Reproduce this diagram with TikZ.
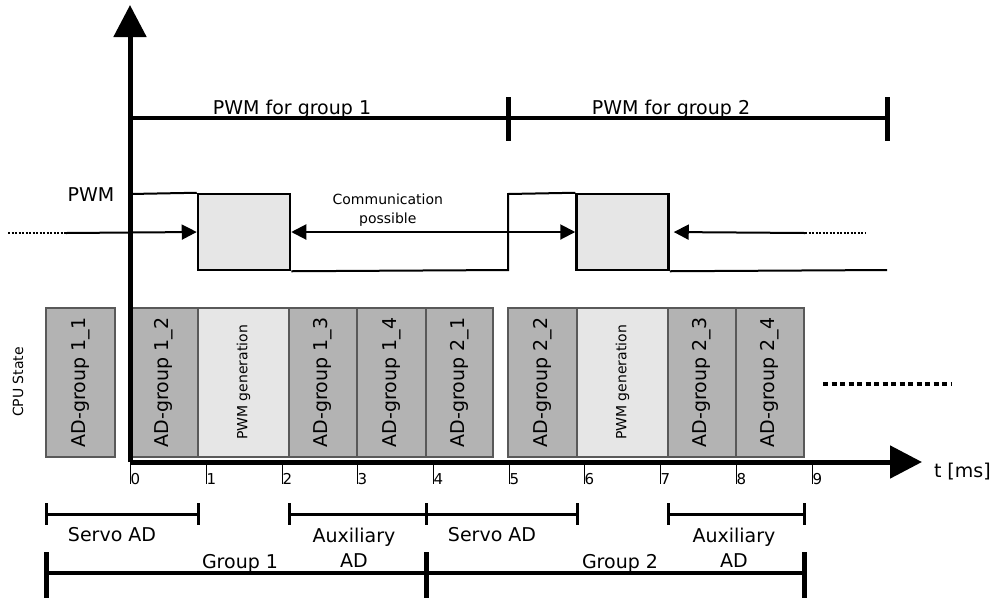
\documentclass[tikz,border=0pt]{standalone}
\usepackage{fontspec}
\setmainfont{DejaVu Sans}
\usetikzlibrary{arrows.meta}
\definecolor{adgray}{HTML}{B3B3B3}
\definecolor{pwmgray}{HTML}{E6E6E6}
\newcommand{\bigfont}{\fontsize{19}{25}\selectfont}
\newcommand{\smallfont}{\fontsize{14}{19}\selectfont}

\begin{document}
\begin{tikzpicture}[x=1pt,y=-1pt,font=\bigfont,line width=2pt,
  axis/.style={-{Triangle[length=32pt,width=32pt]},line width=5pt},
  span/.style={line width=4.5pt},
  bar/.style={line width=5pt},
  bracket/.style={line width=3pt},
  cpubox/.style={draw=black!65,line width=1.3pt,fill=adgray,rotate=90,
    minimum width=149pt,minimum height=68pt,inner sep=0pt},
  pwmbox/.style={cpubox,fill=pwmgray,minimum height=91pt,font=\smallfont},
  pulse/.style={draw,line width=2.5pt,fill=pwmgray,minimum width=92pt,
    minimum height=76pt,inner sep=0pt},
  comm/.style={-{Triangle[length=15pt,width=15pt]}},
  bothcomm/.style={{Triangle[length=15pt,width=15pt]}-{Triangle[length=15pt,width=15pt]}},
  fewdots/.style={line width=2.5pt,dash pattern=on 2pt off 1.5pt}]
\useasboundingbox (0,0) rectangle (992,598);

% CPU state
\node[cpubox,minimum height=69pt] (ag11) at (80.5,382.5) {AD-group 1\_1};
\node[cpubox] (ag12) at (164,382.5) {AD-group 1\_2};
\node[pwmbox] (pwm1) at (243.5,382.5) {PWM generation};
\node[cpubox] (ag13) at (323,382.5) {AD-group 1\_3};
\node[cpubox,minimum height=69pt] (ag14) at (391.5,382.5) {AD-group 1\_4};
\node[cpubox,minimum height=67pt] (ag21) at (459.5,382.5) {AD-group 2\_1};
\node[cpubox,minimum height=69pt] (ag22) at (542.5,382.5) {AD-group 2\_2};
\node[pwmbox] (pwm2) at (622.5,382.5) {PWM generation};
\node[cpubox] (ag23) at (702,382.5) {AD-group 2\_3};
\node[cpubox] (ag24) at (770,382.5) {AD-group 2\_4};
\node[rotate=90,font=\smallfont] (cpu) at (18,382) {CPU State};
\draw[line width=4pt,dash pattern=on 5pt off 3.5pt] (823,384) -- (951,384);

% axes
\coordinate (o) at (130,462);
\draw[axis] (o) -- (130,5);
\draw[axis] (o) -- (922,462);
\node[anchor=base west,inner sep=0pt] (unit) at (933,477) {t [ms]};
\foreach \i/\x in {0/130,1/206,2/282,3/357,4/433,5/509,6/584,7/660,8/736,9/812}
  \draw[line width=1pt] (\x,462) -- (\x,484)
    node[anchor=base west,inner sep=0pt,font=\fontsize{15}{18}\selectfont] (t\i) {\i};

% PWM periods
\draw[span] (130,118) -- (887,118);
\draw[bar] (508,97) -- (508,141);
\draw[bar] (887,97) -- (887,141);
\node[anchor=base] (per1) at (292,114) {PWM for group 1};
\node[anchor=base] (per2) at (671,114) {PWM for group 2};

% PWM signal
\node[anchor=base] (pwm) at (91,201) {PWM};
\node[pulse] (p1) at (244,232) {};
\node[pulse] (p2) at (622.5,232) {};
\draw (130,194) -- (p1.north west);
\draw (p1.south east) -- (508,270) -- (508,194) -- (p2.north west);
\draw (p2.south east) -- (887,270);

\coordinate (inl) at (66,233);
\coordinate (inr) at (805,233);
\draw[fewdots] (8,233) -- (inl);
\draw[comm] (inl) -- (p1.west);
\draw[bothcomm] (p1.east) --
  node[pos=0.34,above=1pt,align=center,font=\smallfont] (commtxt)
  {Communication\\possible} (p2.west);
\draw[comm,shorten >=4pt] (inr) -- (p2.east);
\draw[fewdots] (inr) -- (865,233);

% AD phases
\draw[bracket] (46,514) -- (198,514);
\draw[bracket] (46,503) -- (46,525);
\draw[bracket] (198,503) -- (198,525);
\draw[bracket] (289,514) -- (577,514);
\draw[bracket] (289,503) -- (289,525);
\draw[bracket] (426,503) -- (426,525);
\draw[bracket] (577,503) -- (577,525);
\draw[bracket] (668,514) -- (804,514);
\draw[bracket] (668,503) -- (668,525);
\draw[bracket] (804,503) -- (804,525);
\node[anchor=base] (servo1) at (112,541) {Servo AD};
\node[align=center] (aux1) at (354,548) {Auxiliary\\AD};
\node[anchor=base] (servo2) at (492,541) {Servo AD};
\node[align=center] (aux2) at (734,548) {Auxiliary\\AD};

% groups
\draw[span] (46,573) -- (804,573);
\draw[bar] (46,552) -- (46,598);
\draw[bar] (426,552) -- (426,598);
\draw[bar] (804,552) -- (804,598);
\node[anchor=base] (grp1) at (240,568) {Group 1};
\node[anchor=base] (grp2) at (620,568) {Group 2};
\end{tikzpicture}
\end{document}
